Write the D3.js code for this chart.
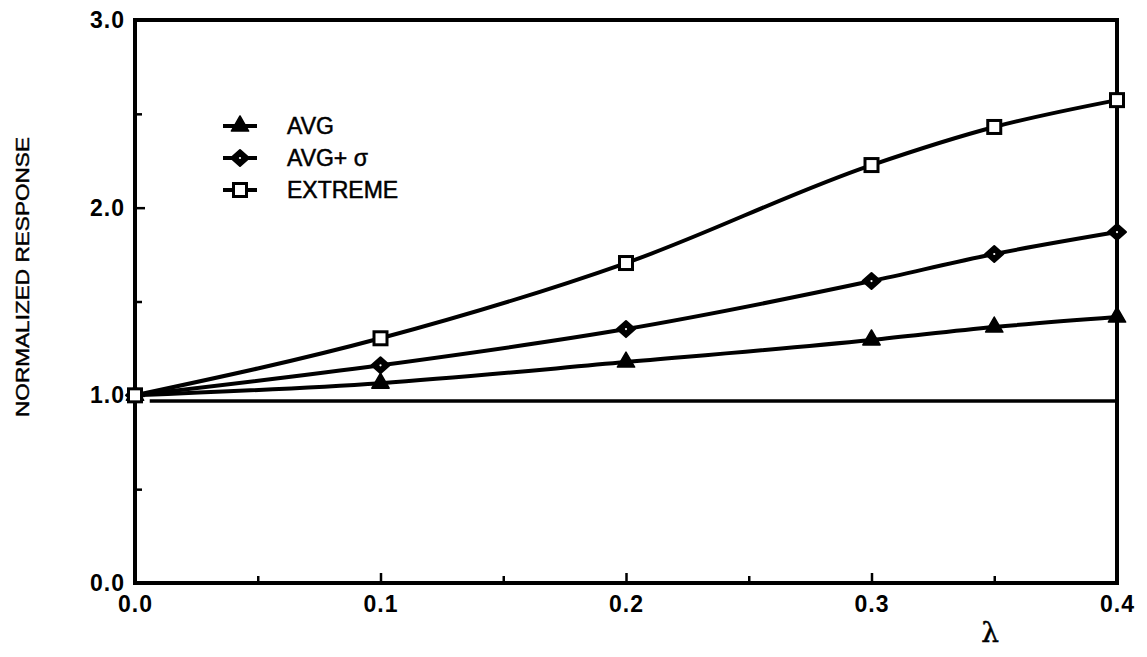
<!DOCTYPE html>
<html>
<head>
<meta charset="utf-8">
<script src="https://cdn.jsdelivr.net/npm/d3@7"></script>
<style>
  html, body { margin: 0; padding: 0; background: #fff; }
  svg { display: block; }
  text { fill: #000; }
</style>
</head>
<body>
<svg id="chart" width="1147" height="657"></svg>
<script>
// Load parameter λ and normalized response for each response statistic
const lambdas   = [0.0, 0.1, 0.2, 0.3, 0.35, 0.4];
const avg       = [1.00, 1.065, 1.177, 1.295, 1.364, 1.417];
const avgSigma  = [1.00, 1.160, 1.353, 1.609, 1.753, 1.870];
const extreme   = [1.00, 1.304, 1.705, 2.227, 2.430, 2.573];

const seriesNames = ["AVG", "AVG+ σ", "EXTREME"];
const seriesMarks = ["triangle", "diamond", "square"];

const xTickValues = [0.0, 0.1, 0.2, 0.3, 0.4];
const xTickLabels = ["0.0", "0.1", "0.2", "0.3", "0.4"];
const xMinorTicks = [0.05, 0.15, 0.25, 0.35];
const yTickValues = [0.0, 1.0, 2.0, 3.0];
const yTickLabels = ["0.0", "1.0", "2.0", "3.0"];
const yMinorTicks = [0.5, 1.5, 2.5];

// Reference level (unity response) drawn across the plot
const refLevel = 0.97;
const refStart = 0.006;

const svg = d3.select("#chart");
const plot = { left: 135, right: 1117, top: 20, bottom: 583 };

const x = d3.scaleLinear().domain([0, 0.4]).range([plot.left, plot.right]);
const y = d3.scaleLinear().domain([0, 3]).range([plot.bottom, plot.top]);

const fontSans = "'Liberation Sans', Arial, Helvetica, sans-serif";

// Frame
svg.append("rect")
  .attr("x", plot.left).attr("y", plot.top)
  .attr("width", plot.right - plot.left).attr("height", plot.bottom - plot.top)
  .attr("fill", "none").attr("stroke", "#000").attr("stroke-width", 4);

// Bottom axis: inward ticks, labels below
const xAxis = d3.axisBottom(x).tickValues(xTickValues)
  .tickSize(-10).tickPadding(13)
  .tickFormat((d, i) => xTickLabels[i]);
const gx = svg.append("g").attr("transform", `translate(0,${plot.bottom})`).call(xAxis);
gx.select(".domain").remove();
gx.selectAll(".tick line").attr("stroke", "#000").attr("stroke-width", 2.5);
gx.selectAll(".tick text")
  .attr("font-family", fontSans).attr("font-size", 23).attr("font-weight", "bold")
  .attr("letter-spacing", 1);

const xMinor = d3.axisBottom(x).tickValues(xMinorTicks).tickSize(-7).tickFormat("");
const gxm = svg.append("g").attr("transform", `translate(0,${plot.bottom})`).call(xMinor);
gxm.select(".domain").remove();
gxm.selectAll(".tick line").attr("stroke", "#000").attr("stroke-width", 2.5);

// Left axis: inward ticks, labels to the left
const yAxis = d3.axisLeft(y).tickValues(yTickValues)
  .tickSize(-10).tickPadding(10)
  .tickFormat((d, i) => yTickLabels[i]);
const gy = svg.append("g").attr("transform", `translate(${plot.left},0)`).call(yAxis);
gy.select(".domain").remove();
gy.selectAll(".tick line").attr("stroke", "#000").attr("stroke-width", 2.5);
gy.selectAll(".tick text")
  .attr("font-family", fontSans).attr("font-size", 23).attr("font-weight", "bold")
  .attr("letter-spacing", 1);

const yMinor = d3.axisLeft(y).tickValues(yMinorTicks).tickSize(-7).tickFormat("");
const gym = svg.append("g").attr("transform", `translate(${plot.left},0)`).call(yMinor);
gym.select(".domain").remove();
gym.selectAll(".tick line").attr("stroke", "#000").attr("stroke-width", 2.5);

// Axis titles
svg.append("text")
  .attr("transform", `translate(29,${(137 + 417) / 2}) rotate(-90)`)
  .attr("text-anchor", "middle")
  .attr("font-family", fontSans).attr("font-size", 19)
  .attr("stroke", "#000").attr("stroke-width", 0.4)
  .attr("textLength", 280).attr("lengthAdjust", "spacingAndGlyphs")
  .text("NORMALIZED RESPONSE");

svg.append("text")
  .attr("x", 990).attr("y", 642)
  .attr("text-anchor", "middle")
  .attr("font-family", "'DejaVu Serif', 'Liberation Serif', serif")
  .attr("font-size", 28)
  .attr("stroke", "#000").attr("stroke-width", 0.5)
  .text("λ");

// Reference line
svg.append("line")
  .attr("x1", x(refStart)).attr("x2", x(0.4))
  .attr("y1", y(refLevel)).attr("y2", y(refLevel))
  .attr("stroke", "#000").attr("stroke-width", 3.5);

// Series
const series = [avg, avgSigma, extreme].map((vals, i) => ({
  name: seriesNames[i],
  mark: seriesMarks[i],
  points: lambdas.map((l, j) => ({ l, v: vals[j] }))
}));

const line = d3.line().x(d => x(d.l)).y(d => y(d.v)).curve(d3.curveMonotoneX);

function drawMarker(g, kind, cx, cy) {
  if (kind === "square") {
    g.append("rect")
      .attr("x", cx - 6.5).attr("y", cy - 6.5).attr("width", 13).attr("height", 13)
      .attr("fill", "#fff").attr("stroke", "#000").attr("stroke-width", 3);
  } else if (kind === "diamond") {
    const hw = 9, hh = 8;
    g.append("path")
      .attr("d", `M${cx - hw},${cy}L${cx},${cy - hh}L${cx + hw},${cy}L${cx},${cy + hh}Z`)
      .style("fill", "#000").attr("stroke", "#000").attr("stroke-width", 2)
      .attr("stroke-linejoin", "round");
    g.append("circle")
      .attr("cx", cx).attr("cy", cy).attr("r", 1.1).style("fill", "#fff");
  } else {
    g.append("path")
      .attr("d", d3.symbol().type(d3.symbolTriangle).size(130)())
      .attr("transform", `translate(${cx},${cy})`)
      .style("fill", "#000").attr("stroke", "#000").attr("stroke-width", 1.5)
      .attr("stroke-linejoin", "round");
  }
}

series.forEach(s => {
  svg.append("path")
    .datum(s.points)
    .attr("d", line)
    .attr("fill", "none").attr("stroke", "#000")
    .attr("stroke-width", 4).attr("stroke-linejoin", "round");
  const g = svg.append("g");
  s.points.forEach(p => drawMarker(g, s.mark, x(p.l), y(p.v)));
});

// Legend
const legend = svg.append("g");
const legendRows = [126, 158, 190];
series.forEach((s, i) => {
  const ly = legendRows[i];
  legend.append("line")
    .attr("x1", 223).attr("x2", 257).attr("y1", ly).attr("y2", ly)
    .attr("stroke", "#000").attr("stroke-width", 4);
  drawMarker(legend, s.mark, 240, ly);
  legend.append("text")
    .attr("x", 287).attr("y", ly).attr("dy", "0.36em")
    .attr("font-family", fontSans).attr("font-size", 23)
    .attr("stroke", "#000").attr("stroke-width", 0.5)
    .text(s.name);
});
</script>
</body>
</html>
